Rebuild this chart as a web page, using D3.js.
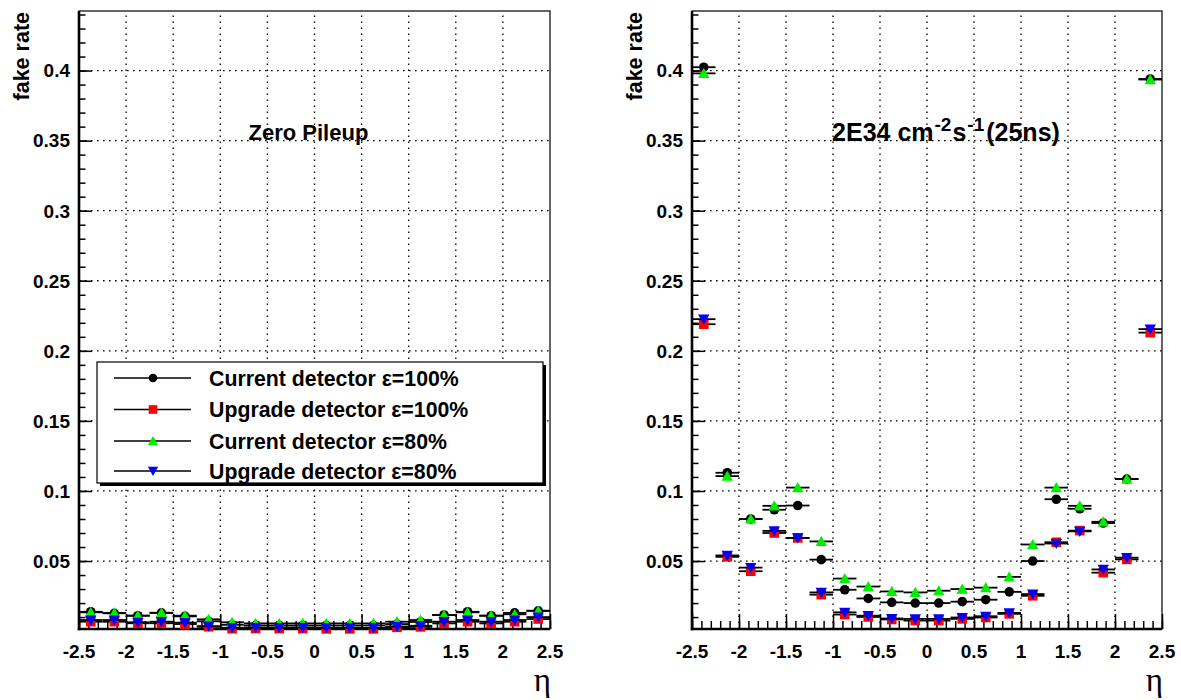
<!DOCTYPE html>
<html>
<head>
<meta charset="utf-8">
<script src="https://cdn.jsdelivr.net/npm/d3@7"></script>
<style>
  html, body { margin: 0; padding: 0; background: #fff; }
  svg { display: block; }
  text { font-family: "Liberation Sans", Arial, Helvetica, sans-serif; font-weight: bold; fill: #000; }
</style>
</head>
<body>
<svg id="chart" width="1181" height="700"></svg>
<script>
// Bin centres in eta (20 bins of width 0.25 from -2.5 to 2.5)
const etaCenters = [-2.375, -2.125, -1.875, -1.625, -1.375, -1.125, -0.875, -0.625, -0.375, -0.125,
                     0.125,  0.375,  0.625,  0.875,  1.125,  1.375,  1.625,  1.875,  2.125,  2.375];
const binHalfWidth = 0.125;

// Zero pileup fake rates
const zeroCurrent100 = [0.0138, 0.0127, 0.0110, 0.0130, 0.0105, 0.0070, 0.0045, 0.0040, 0.0040, 0.0040,
                        0.0040, 0.0040, 0.0040, 0.0050, 0.0065, 0.0115, 0.0138, 0.0110, 0.0130, 0.0145];
const zeroUpgrade100 = [0.0067, 0.0067, 0.0056, 0.0056, 0.0050, 0.0031, 0.0017, 0.0018, 0.0018, 0.0018,
                        0.0016, 0.0016, 0.0016, 0.0027, 0.0030, 0.0055, 0.0067, 0.0055, 0.0067, 0.0086];
const zeroCurrent80  = [0.0134, 0.0130, 0.0110, 0.0131, 0.0110, 0.0084, 0.0063, 0.0055, 0.0055, 0.0055,
                        0.0055, 0.0055, 0.0055, 0.0067, 0.0079, 0.0115, 0.0134, 0.0110, 0.0120, 0.0145];
const zeroUpgrade80  = [0.0079, 0.0079, 0.0063, 0.0067, 0.0060, 0.0035, 0.0024, 0.0025, 0.0025, 0.0025,
                        0.0024, 0.0024, 0.0023, 0.0033, 0.0038, 0.0067, 0.0079, 0.0067, 0.0079, 0.0100];

// 2E34 cm^-2 s^-1 (25 ns) fake rates
const puCurrent100 = [0.4024, 0.1130, 0.0800, 0.0866, 0.0896, 0.0510, 0.0295, 0.0233, 0.0205, 0.0200,
                      0.0200, 0.0210, 0.0224, 0.0280, 0.0500, 0.0941, 0.0873, 0.0771, 0.1085, 0.3940];
const puUpgrade100 = [0.2190, 0.0530, 0.0427, 0.0700, 0.0665, 0.0260, 0.0118, 0.0101, 0.0083, 0.0075,
                      0.0075, 0.0087, 0.0097, 0.0123, 0.0252, 0.0634, 0.0717, 0.0417, 0.0512, 0.2130];
const puCurrent80  = [0.3980, 0.1106, 0.0800, 0.0894, 0.1024, 0.0640, 0.0375, 0.0318, 0.0283, 0.0276,
                      0.0288, 0.0300, 0.0310, 0.0387, 0.0618, 0.1024, 0.0894, 0.0780, 0.1085, 0.3936];
const puUpgrade80  = [0.2226, 0.0540, 0.0453, 0.0715, 0.0665, 0.0276, 0.0134, 0.0110, 0.0090, 0.0087,
                      0.0087, 0.0097, 0.0106, 0.0130, 0.0264, 0.0625, 0.0712, 0.0440, 0.0524, 0.2155];

const seriesNames  = ["Current detector \u03b5=100%", "Upgrade detector \u03b5=100%",
                      "Current detector \u03b5=80%",  "Upgrade detector \u03b5=80%"];
const seriesColors = ["#000000", "#ff0000", "#00ee00", "#0000ff"];
const seriesShapes = ["circle", "square", "triangleUp", "triangleDown"];

const xTicks = [-2.5, -2, -1.5, -1, -0.5, 0, 0.5, 1, 1.5, 2, 2.5];
const xTickLabels = ["-2.5", "-2", "-1.5", "-1", "-0.5", "0", "0.5", "1", "1.5", "2", "2.5"];
const yTicks = [0.05, 0.1, 0.15, 0.2, 0.25, 0.3, 0.35, 0.4];
const yTickLabels = ["0.05", "0.1", "0.15", "0.2", "0.25", "0.3", "0.35", "0.4"];
const xDomain = [-2.5, 2.5];
const yDomain = [0.0015, 0.4425];

const svg = d3.select("#chart");

const panels = [
  { x0: 79,  x1: 550,  y0: 11, y1: 629, series: [zeroCurrent100, zeroUpgrade100, zeroCurrent80, zeroUpgrade80],
    title: "zero", legend: true },
  { x0: 692, x1: 1162, y0: 11, y1: 629, series: [puCurrent100, puUpgrade100, puCurrent80, puUpgrade80],
    title: "pu", legend: false }
];

function markerPath(shape) {
  const s = 4.8;
  if (shape === "circle") return d3.symbol(d3.symbolCircle, Math.PI * s * s)();
  if (shape === "square") return `M${-s},${-s}H${s}V${s}H${-s}Z`;
  if (shape === "triangleUp") return `M0,${-s - 0.8}L${s + 0.9},${s - 0.2}L${-s - 0.9},${s - 0.2}Z`;
  return `M0,${s + 0.8}L${s + 0.9},${-s + 0.2}L${-s - 0.9},${-s + 0.2}Z`;
}

panels.forEach(p => {
  const g = svg.append("g");
  const x = d3.scaleLinear().domain(xDomain).range([p.x0, p.x1]);
  const y = d3.scaleLinear().domain(yDomain).range([p.y1, p.y0]);

  // frame
  g.append("rect").attr("x", p.x0).attr("y", p.y0)
    .attr("width", p.x1 - p.x0).attr("height", p.y1 - p.y0)
    .attr("fill", "none").attr("stroke", "#000").attr("stroke-width", 1.2);

  // dotted grid
  const grid = g.append("g").attr("stroke", "#000").attr("stroke-width", 1.3)
    .attr("stroke-dasharray", "1.6,4.4");
  xTicks.filter(v => v > xDomain[0] && v < xDomain[1]).forEach(v => {
    grid.append("line").attr("x1", x(v)).attr("x2", x(v)).attr("y1", p.y1).attr("y2", p.y0);
  });
  yTicks.forEach(v => {
    grid.append("line").attr("x1", p.x0).attr("x2", p.x1).attr("y1", y(v)).attr("y2", y(v));
  });

  // y axis: inward ticks
  const yAxis = d3.axisRight(y).tickValues(yTicks).tickSize(13).tickFormat("");
  const yMinor = d3.axisRight(y).tickValues(d3.range(1, 45).map(i => i / 100)).tickSize(6.5).tickFormat("");
  [yAxis, yMinor].forEach(ax => {
    const a = g.append("g").attr("transform", `translate(${p.x0},0)`).call(ax);
    a.select(".domain").remove();
    a.selectAll("line").attr("stroke", "#000").attr("stroke-width", 1.5);
  });
  g.append("line").attr("x1", p.x0).attr("x2", p.x0).attr("y1", p.y0).attr("y2", p.y1 + 1.2)
    .attr("stroke", "#000").attr("stroke-width", 2.6);

  // x axis: inward ticks
  const xAxis = d3.axisTop(x).tickValues(xTicks).tickSize(15).tickFormat("");
  const xMinor = d3.axisTop(x).tickValues(d3.range(-25, 26).map(i => i / 10)).tickSize(8).tickFormat("");
  [xAxis, xMinor].forEach(ax => {
    const a = g.append("g").attr("transform", `translate(0,${p.y1})`).call(ax);
    a.select(".domain").remove();
    a.selectAll("line").attr("stroke", "#000").attr("stroke-width", 1.5);
  });
  g.append("line").attr("x1", p.x0 - 1.2).attr("x2", p.x1).attr("y1", p.y1).attr("y2", p.y1)
    .attr("stroke", "#000").attr("stroke-width", 2.6);

  // tick labels
  yTicks.forEach((v, i) => {
    g.append("text").attr("x", p.x0 - 9).attr("y", y(v)).attr("dy", "0.36em")
      .attr("text-anchor", "end").attr("font-size", 19).text(yTickLabels[i]);
  });
  xTicks.forEach((v, i) => {
    g.append("text").attr("x", x(v)).attr("y", p.y1 + 29)
      .attr("text-anchor", "middle").attr("font-size", 19).text(xTickLabels[i]);
  });

  // axis titles
  g.append("text").attr("transform", `translate(${p.x0 - 50},${p.y0 + 1}) rotate(-90)`)
    .attr("text-anchor", "end").attr("font-size", 21.5).text("fake rate");
  g.append("text").attr("x", p.x1 + 1).attr("y", p.y1 + 62)
    .attr("text-anchor", "end").attr("font-size", 33)
    .style("font-family", "'Liberation Serif', 'DejaVu Serif', serif").style("font-weight", "normal")
    .text("\u03b7");

  // panel title
  if (p.title === "zero") {
    g.append("text").attr("x", x(-0.7)).attr("y", 140).attr("font-size", 22).text("Zero Pileup");
  } else {
    const t = g.append("text").attr("x", x(-1.01)).attr("y", 141).attr("font-size", 25);
    t.append("tspan").text("2E34 cm");
    t.append("tspan").attr("dy", -10).attr("dx", 1).attr("font-size", 19).text("-2");
    t.append("tspan").attr("dy", 10).attr("dx", 1).text("s");
    t.append("tspan").attr("dy", -10).attr("dx", 1).attr("font-size", 19).text("-1");
    t.append("tspan").attr("dy", 10).attr("dx", 2).text("(25ns)");
  }

  // series: horizontal bin-width bars, then markers
  p.series.forEach((vals, si) => {
    const sg = g.append("g");
    vals.forEach((v, bi) => {
      const c = etaCenters[bi];
      sg.append("line").attr("x1", x(c - binHalfWidth)).attr("x2", x(c + binHalfWidth))
        .attr("y1", y(v)).attr("y2", y(v)).attr("stroke", "#000").attr("stroke-width", 1.8);
    });
    sg.selectAll("path.m").data(vals).enter().append("path").attr("class", "m")
      .attr("d", markerPath(seriesShapes[si]))
      .attr("transform", (v, bi) => `translate(${x(etaCenters[bi])},${y(v)})`)
      .attr("fill", seriesColors[si]);
  });

  // legend
  if (p.legend) {
    const lx = 97, ly = 362, lw = 446, lh = 121;
    g.append("rect").attr("x", lx + 3).attr("y", ly + 3).attr("width", lw).attr("height", lh).attr("fill", "#000");
    g.append("rect").attr("x", lx).attr("y", ly).attr("width", lw).attr("height", lh)
      .attr("fill", "#fff").attr("stroke", "#000").attr("stroke-width", 1.2);
    const rows = [378, 409.5, 441, 471];
    seriesNames.forEach((name, si) => {
      const ry = rows[si];
      g.append("line").attr("x1", 114).attr("x2", 191).attr("y1", ry).attr("y2", ry)
        .attr("stroke", "#000").attr("stroke-width", 1.5);
      g.append("path").attr("d", markerPath(seriesShapes[si]))
        .attr("transform", `translate(153,${ry}) scale(0.9)`).attr("fill", seriesColors[si]);
      g.append("text").attr("x", 209).attr("y", ry).attr("dy", "0.36em").attr("font-size", 21.3).text(name);
    });
  }
});
</script>
</body>
</html>
